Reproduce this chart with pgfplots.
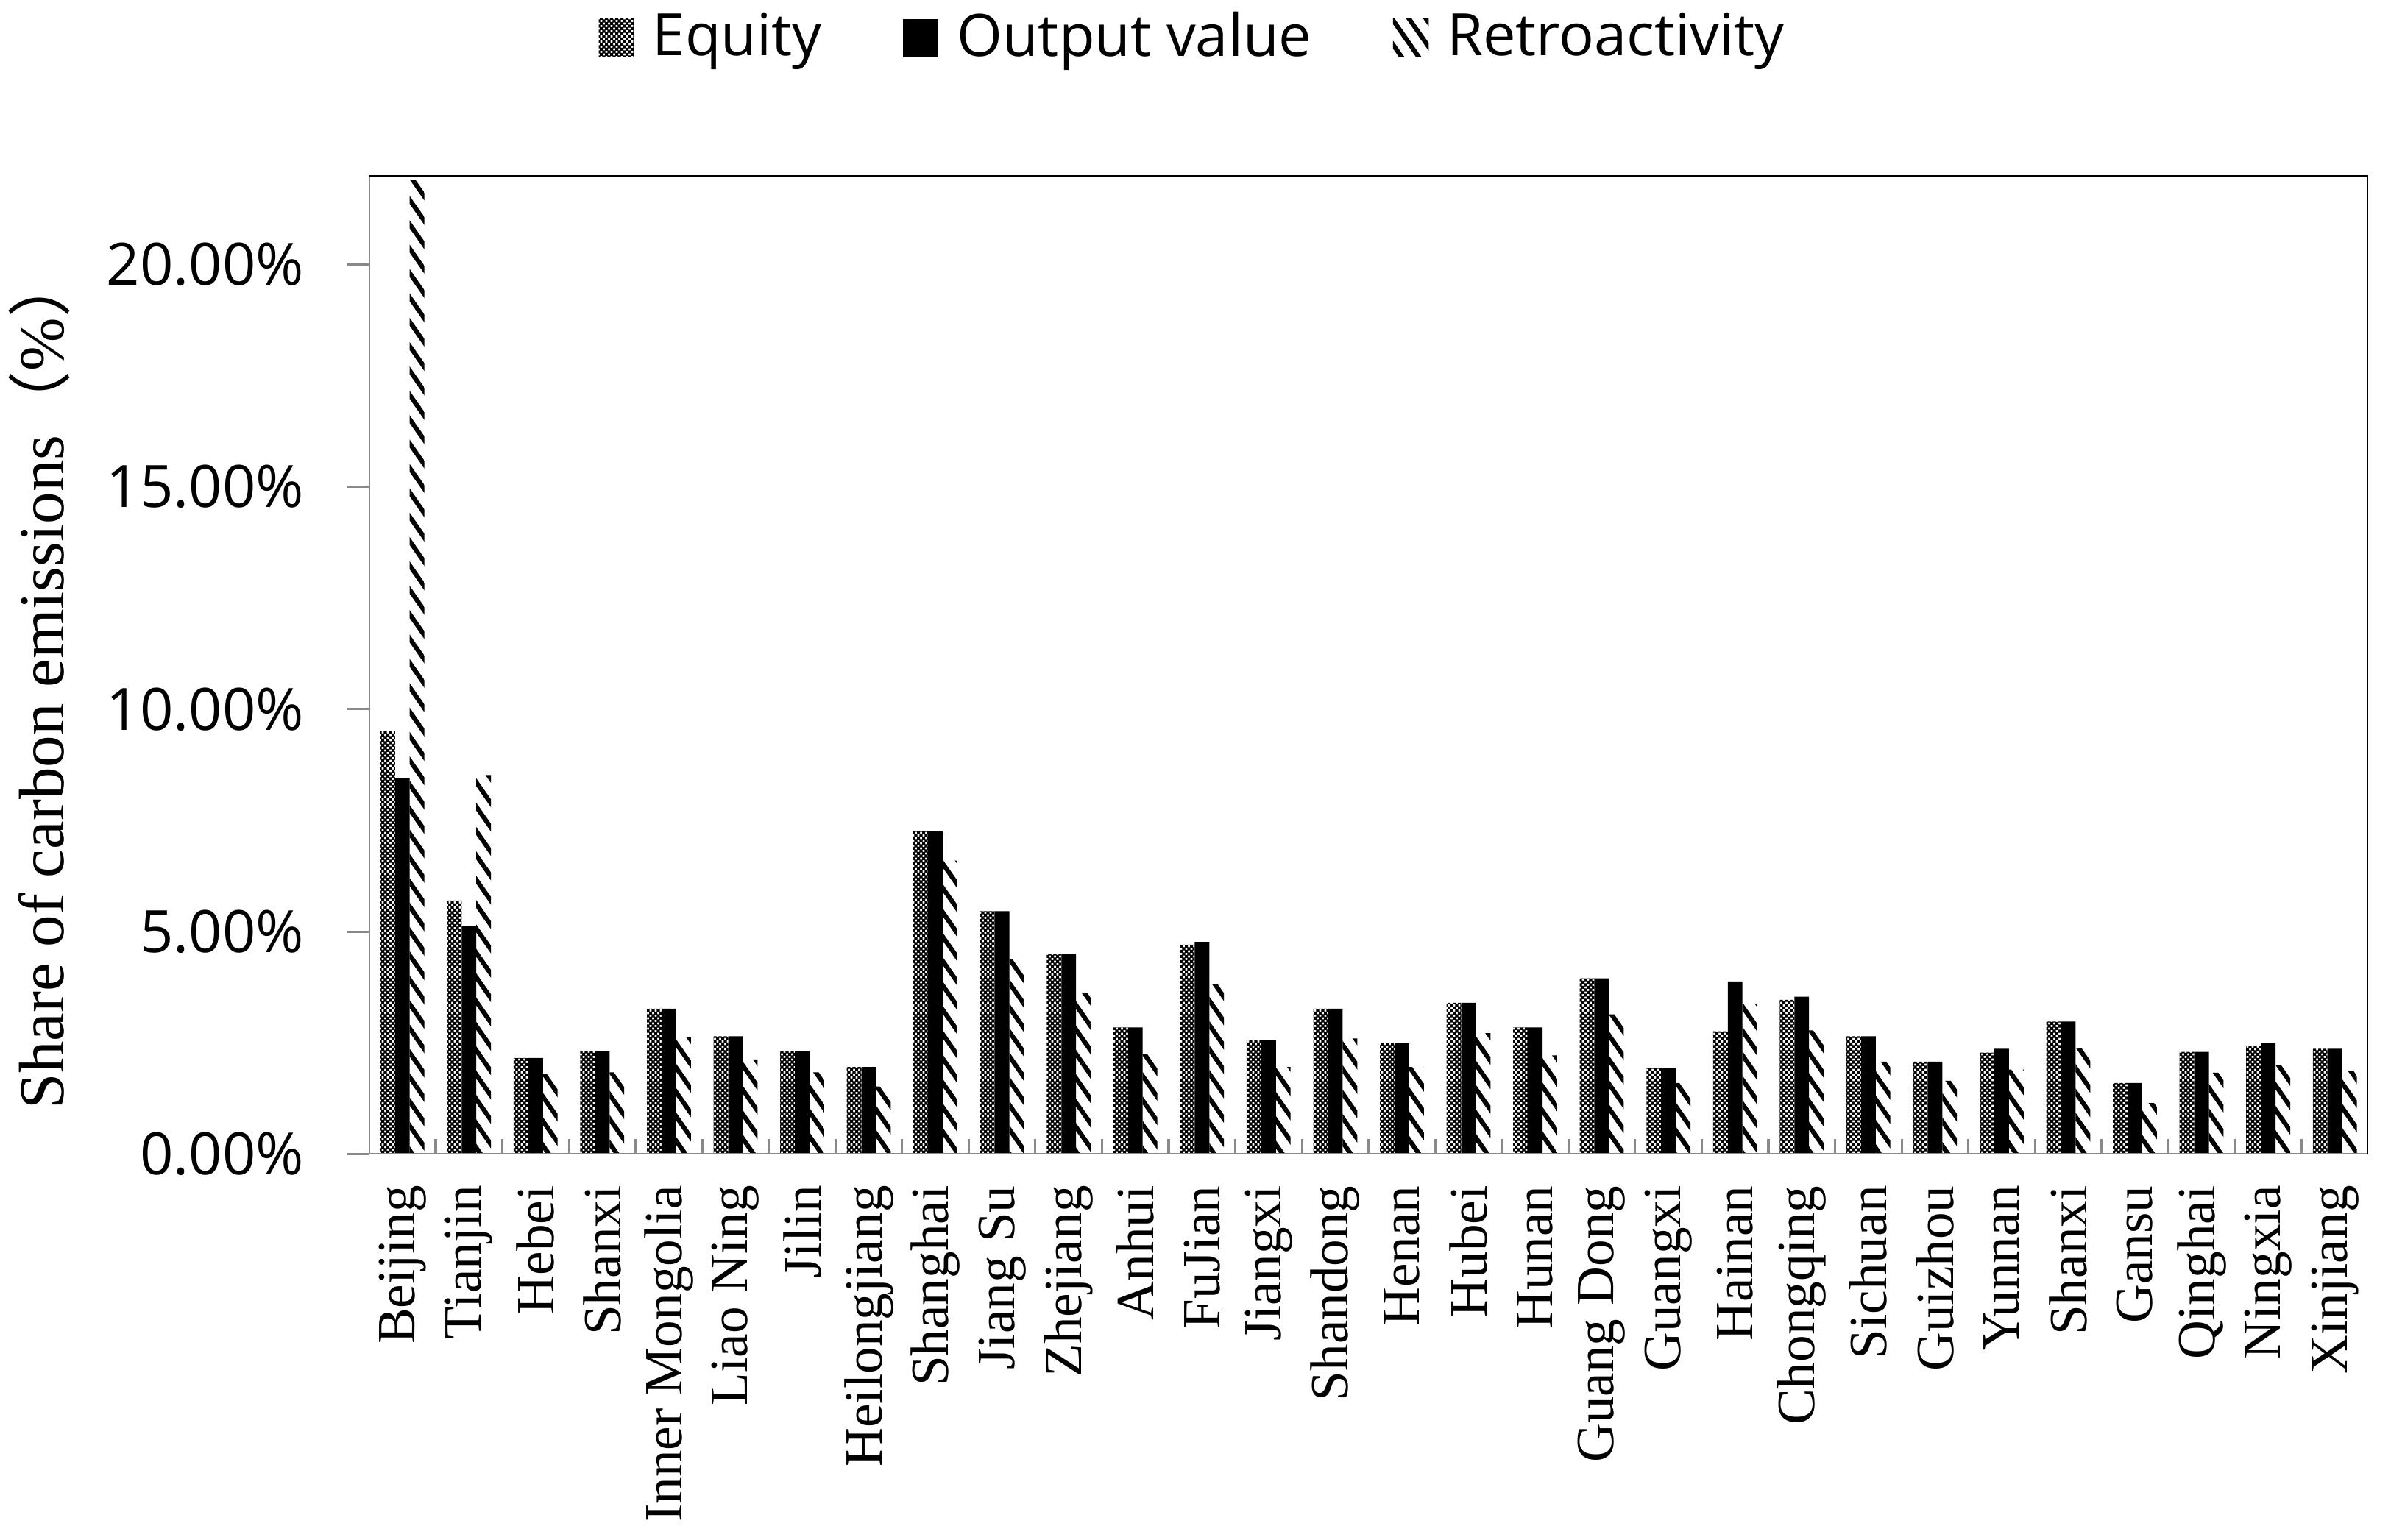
\documentclass[border=0pt]{standalone}
\usepackage{fontspec}
\setmainfont{Liberation Serif}
\newfontfamily\osans{Open Sans}
\newfontfamily\cjk{Noto Sans CJK SC}
\usepackage{pgfplots}
\usepackage{pgfplotstable}
\pgfplotsset{compat=1.18}
\usetikzlibrary{patterns,patterns.meta}
\definecolor{axgray}{HTML}{898989}

\pgfdeclarepatternformonly{checker}{\pgfpointorigin}{\pgfqpoint{1pt}{1pt}}{\pgfqpoint{1pt}{1pt}}{%
  \pgfpathrectangle{\pgfpointorigin}{\pgfqpoint{0.6pt}{0.6pt}}%
  \pgfpathrectangle{\pgfqpoint{0.5pt}{0.5pt}}{\pgfqpoint{0.5pt}{0.5pt}}%
  \pgfpathrectangle{\pgfqpoint{0pt}{0.5pt}}{\pgfqpoint{0.1pt}{0.5pt}}%
  \pgfpathrectangle{\pgfqpoint{0.5pt}{0pt}}{\pgfqpoint{0.5pt}{0.1pt}}%
  \pgfusepath{fill}}

\pgfplotstableread{
x E O R
0 9.50 8.45 21.9
1 5.70 5.12 8.52
2 2.16 2.16 1.80
3 2.31 2.31 1.84
4 3.27 3.27 2.62
5 2.65 2.65 2.13
6 2.31 2.31 1.84
7 1.96 1.96 1.52
8 7.25 7.25 6.60
9 5.46 5.46 4.38
10 4.50 4.50 3.62
11 2.85 2.85 2.25
12 4.71 4.77 3.82
13 2.56 2.56 1.96
14 3.27 3.27 2.60
15 2.49 2.49 1.96
16 3.40 3.40 2.72
17 2.85 2.85 2.22
18 3.95 3.95 3.14
19 1.94 1.94 1.60
20 2.76 3.88 3.37
21 3.47 3.54 2.78
22 2.65 2.65 2.08
23 2.08 2.08 1.65
24 2.28 2.37 1.90
25 2.98 2.98 2.38
26 1.60 1.60 1.15
27 2.30 2.30 1.83
28 2.44 2.50 2.00
29 2.37 2.37 1.87
}\data

\begin{document}
\begin{tikzpicture}
\begin{axis}[
  name=ax,
  scale only axis, width=393.3pt, height=192.6pt,
  xmin=-0.5, xmax=29.5, ymin=0, ymax=22,
  ybar, bar width=0.22,
  axis line style={draw=none},
  tick align=inside, tick pos=left,
  xtick={0,...,29},
  xticklabels={Beijing,Tianjin,Hebei,Shanxi,Inner Mongolia,Liao Ning,Jilin,Heilongjiang,Shanghai,Jiang Su,Zhejiang,Anhui,FuJian,Jiangxi,Shandong,Henan,Hubei,Hunan,Guang Dong,Guangxi,Hainan,Chongqing,Sichuan,Guizhou,Yunnan,Shanxi,Gansu,Qinghai,Ningxia,Xinjiang},
  minor x tick num=1,
  major tick length=4.2pt, minor tick length=3pt,
  tick style={color=axgray, line width=0.45pt},
  every major x tick/.append style={draw=none},
  every major y tick/.append style={xshift=-4.2pt},
  ytick={0,5,10,15,20},
  yticklabels={0.00\%,5.00\%,10.00\%,15.00\%,20.00\%},
  yticklabel style={font=\osans\fontsize{11.5}{13}\selectfont, inner sep=0pt, anchor=east},
  yticklabel shift=12.6pt,
  xticklabel style={rotate=90, anchor=east, inner sep=0pt, font=\fontsize{10.6}{12}\selectfont},
  xticklabel shift=6pt,
  ylabel={Share of carbon emissions{\cjk （}\%{\cjk ）}},
  ylabel style={at={(axis description cs:-0.1648,0.483)}, anchor=center, inner sep=0pt, font=\fontsize{12.6}{14}\selectfont},
  legend columns=3,
  legend image code/.code={\path[#1] (0pt,-3.75pt) rectangle (7pt,3.75pt);},
  legend style={at={(axis description cs:0,1)}, anchor=west, xshift=45pt, yshift=27pt,
    draw=none, fill=none, inner sep=0pt,
    font=\osans\fontsize{11.5}{13}\selectfont,
    nodes={inner sep=0pt},
    /tikz/every odd column/.append style={column sep=3.6pt},
    /tikz/every even column/.append style={column sep=16pt}},
]
\addplot[pattern=checker, pattern color=black, draw=none, bar shift=-0.22] table[x=x,y=E]{\data};
\addplot[fill=black, draw=none, bar shift=0] table[x=x,y=O]{\data};
\addplot[pattern={Lines[angle=-55,distance=2.75pt,line width=0.9pt]}, pattern color=black, draw=none, bar shift=0.22] table[x=x,y=R]{\data};
\legend{Equity, Output value, Retroactivity}
\draw[axgray, line width=0.5pt] (rel axis cs:0,1) -- (rel axis cs:0,0) -- (rel axis cs:1,0);
\draw[black, line width=0.45pt] (rel axis cs:0,1) -- (rel axis cs:1,1) -- (rel axis cs:1,0);
\end{axis}
\pgfresetboundingbox
\path ([shift={(-72.6pt,-75.9pt)}]ax.south west) rectangle ([shift={(4.5pt,34.5pt)}]ax.north east);
\end{tikzpicture}
\end{document}
